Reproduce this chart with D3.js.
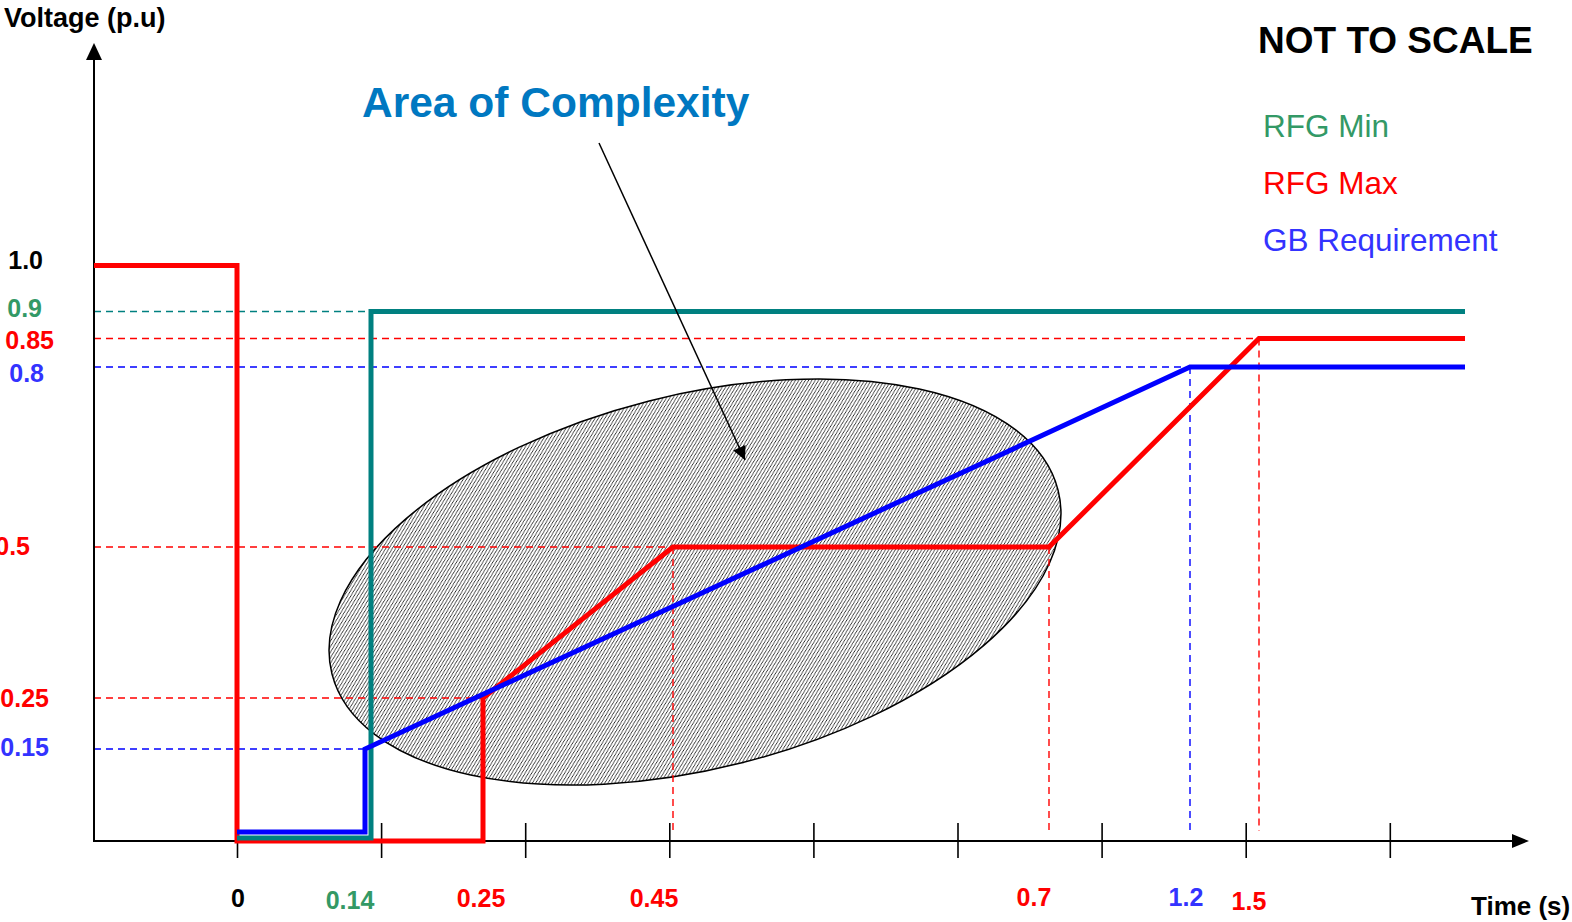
<!DOCTYPE html>
<html>
<head>
<meta charset="utf-8">
<script src="https://cdn.jsdelivr.net/npm/d3@7"></script>
<style>
  body { margin: 0; background: #fff; }
  text { font-family: "Liberation Sans", Arial, sans-serif; }
</style>
</head>
<body>
<script>
// series (time s, voltage p.u) -- chart is "not to scale"
var timeMax = [-0.1, 0, 0, 0.25, 0.25, 0.45, 0.7, 1.5, 2.0];
var voltMax = [1.0, 1.0, 0, 0, 0.25, 0.5, 0.5, 0.85, 0.85];
var timeMin = [0, 0.14, 0.14, 2.0];
var voltMin = [0, 0, 0.9, 0.9];
var timeGB  = [0, 0.14, 0.14, 1.2, 2.0];
var voltGB  = [0, 0, 0.15, 0.8, 0.8];

// tick labels
var xTickVals = [0, 0.14, 0.25, 0.45, 0.7, 1.2, 1.5];
var yTickVals = [1.0, 0.9, 0.85, 0.8, 0.5, 0.25, 0.15];
var yTickText = ["1.0", "0.9", "0.85", "0.8", "0.5", "0.25", "0.15"];

// dashed reference lines: [time, voltage]
var guideT = [0.14, 1.5, 1.2, 0.45, 0.7, 0.25, 0.14];
var guideV = [0.9, 0.85, 0.8, 0.5, 0.5, 0.25, 0.15];

var legendNames = ["RFG Min", "RFG Max", "GB Requirement"];

// ---- styles / layout ----
var W = 1572, H = 922;
var teal = "#008080", red = "#ff0000", blue = "#0000ff";
var green = "#339966", lblue = "#3333ff";
var xTickColor = ["#000", green, red, red, red, lblue, red];
var xTickNudge = [[1, 907], [-21, 909], [-2, 907], [-19, 907], [-15, 906], [-4, 906], [-10, 910]];
var yTickColor = ["#000", green, red, lblue, red, red, lblue];
var yTickNudge = [[43, 3.5], [42, 5], [54, 10.5], [44, 15], [30, 8], [49, 9], [49, 7]];
var guideColor = [teal, red, blue, red, red, red, blue];
var guideH = [true, true, true, true, false, true, true];
var guideVert = [false, true, true, true, true, false, false];
var guideDx = [0, 0, 0, 0, 0, 0, -6];
var legendColor = [green, red, lblue];

// not-to-scale axes: piecewise linear scales
var x = d3.scaleLinear()
  .domain([-0.1, 0, 0.14, 0.25, 0.45, 0.7, 1.2, 1.5, 2.0])
  .range([94, 237, 371, 483, 673, 1049, 1190, 1259, 1465]);
var y = d3.scaleLinear()
  .domain([0, 0.15, 0.25, 0.5, 0.8, 0.85, 0.9, 1.0])
  .range([841, 749, 698, 547, 367, 338.5, 311.5, 265.5]);

var svg = d3.select("body").append("svg")
  .attr("width", W).attr("height", H);
svg.append("rect").attr("width", W).attr("height", H).attr("fill", "#fff");

var defs = svg.append("defs");
var pat = defs.append("pattern").attr("id", "hatch")
  .attr("patternUnits", "userSpaceOnUse").attr("width", 4).attr("height", 4);
pat.append("rect").attr("width", 4).attr("height", 4).attr("fill", "#fff");
pat.append("path").attr("d", "M-1,1 l2,-2 M0,4 l4,-4 M3,5 l2,-2")
  .attr("stroke", "#222").attr("stroke-width", 1.0);

// area of complexity ellipse
svg.append("ellipse")
  .attr("transform", "translate(695,582) rotate(-14.2)")
  .attr("rx", 374.5).attr("ry", 186.8)
  .attr("fill", "url(#hatch)").attr("stroke", "#000").attr("stroke-width", 1.5);

// dashed guides
var guides = svg.append("g").attr("fill", "none").attr("stroke-width", 1.4)
  .attr("stroke-dasharray", "7,5");
guideT.forEach(function(t, i) {
  var gx = x(t) + guideDx[i], gy = y(guideV[i]);
  if (guideH[i]) guides.append("line").attr("x1", x(-0.1)).attr("x2", gx)
    .attr("y1", gy).attr("y2", gy).attr("stroke", guideColor[i]);
  if (guideVert[i]) guides.append("line").attr("x1", gx).attr("x2", gx)
    .attr("y1", gy).attr("y2", y(0) - 10).attr("stroke", guideColor[i]);
});

// axes
var axisY = y(0);
svg.append("line").attr("x1", x(-0.1)).attr("x2", x(-0.1))
  .attr("y1", 56).attr("y2", axisY + 1).attr("stroke", "#000").attr("stroke-width", 2);
svg.append("path").attr("d", d3.line()([[x(-0.1), 43], [x(-0.1) - 8, 60], [x(-0.1) + 8, 60]]) + "Z")
  .attr("fill", "#000");
svg.append("line").attr("x1", x(-0.1)).attr("x2", 1516)
  .attr("y1", axisY).attr("y2", axisY).attr("stroke", "#000").attr("stroke-width", 2);
svg.append("path").attr("d", d3.line()([[1529, axisY], [1512, axisY - 7], [1512, axisY + 7]]) + "Z")
  .attr("fill", "#000");

// evenly spaced tick marks (not tied to values)
var tickScale = d3.scaleLinear().domain([0, 8]).range([x(0), x(0) + 8 * 144.1]);
var tickAxis = svg.append("g").attr("transform", "translate(0," + (axisY - 18) + ")")
  .call(d3.axisBottom(tickScale).ticks(8).tickSize(35).tickFormat(""));
tickAxis.select(".domain").remove();
tickAxis.selectAll("line").attr("stroke", "#000").attr("stroke-width", 1.6);

// series lines
function series(ts, vs, lowDy, stepT, stepDx) {
  return ts.map(function(t, i) {
    return [x(t) + (t === stepT ? stepDx : 0), y(vs[i]) + (vs[i] === 0 ? lowDy : 0)];
  });
}
var line = d3.line();
function draw(pts, color) {
  svg.append("path").attr("d", line(pts)).attr("fill", "none")
    .attr("stroke", color).attr("stroke-width", 5)
    .attr("stroke-linejoin", "miter").attr("stroke-linecap", "butt");
}
draw(series(timeMax, voltMax, 0, null, 0), red);
draw(series(timeMin, voltMin, -3, null, 0), teal);
draw(series(timeGB, voltGB, -9, 0.14, -6), blue);

// tick labels
svg.append("g").selectAll("text").data(xTickVals).enter().append("text")
  .attr("x", function(d, i) { return x(d) + xTickNudge[i][0]; })
  .attr("y", function(d, i) { return xTickNudge[i][1]; })
  .attr("text-anchor", "middle").attr("font-size", 25).attr("font-weight", "bold")
  .attr("fill", function(d, i) { return xTickColor[i]; })
  .text(function(d) { return d; });

svg.append("g").selectAll("text").data(yTickVals).enter().append("text")
  .attr("x", function(d, i) { return yTickNudge[i][0]; })
  .attr("y", function(d, i) { return y(d) + yTickNudge[i][1]; })
  .attr("text-anchor", "end").attr("font-size", 25).attr("font-weight", "bold")
  .attr("fill", function(d, i) { return yTickColor[i]; })
  .text(function(d, i) { return yTickText[i]; });

// axis titles
svg.append("text").attr("x", 4).attr("y", 27).attr("font-size", 27)
  .attr("font-weight", "bold").text("Voltage (p.u)");
svg.append("text").attr("x", 1471).attr("y", 915).attr("font-size", 26)
  .attr("font-weight", "bold").text("Time (s)");

// annotations
svg.append("text").attr("x", 1258).attr("y", 53).attr("font-size", 37)
  .attr("font-weight", "bold").text("NOT TO SCALE");
svg.append("g").selectAll("text").data(legendNames).enter().append("text")
  .attr("x", 1263).attr("y", function(d, i) { return 137 + i * 57; })
  .attr("font-size", 31.5).attr("fill", function(d, i) { return legendColor[i]; })
  .text(function(d) { return d; });

svg.append("text").attr("x", 362).attr("y", 117).attr("font-size", 42.5)
  .attr("font-weight", "bold").attr("fill", "#0078c1").text("Area of Complexity");

defs.append("marker").attr("id", "arr").attr("viewBox", "0 0 10 10")
  .attr("refX", 10).attr("refY", 5).attr("markerWidth", 11).attr("markerHeight", 9)
  .attr("markerUnits", "strokeWidth").attr("orient", "auto")
  .append("path").attr("d", "M0,0 L10,5 L0,10 Z").attr("fill", "#000");
svg.append("line").attr("x1", 599).attr("y1", 143).attr("x2", 745).attr("y2", 460)
  .attr("stroke", "#000").attr("stroke-width", 1.5).attr("marker-end", "url(#arr)");
</script>
</body>
</html>
